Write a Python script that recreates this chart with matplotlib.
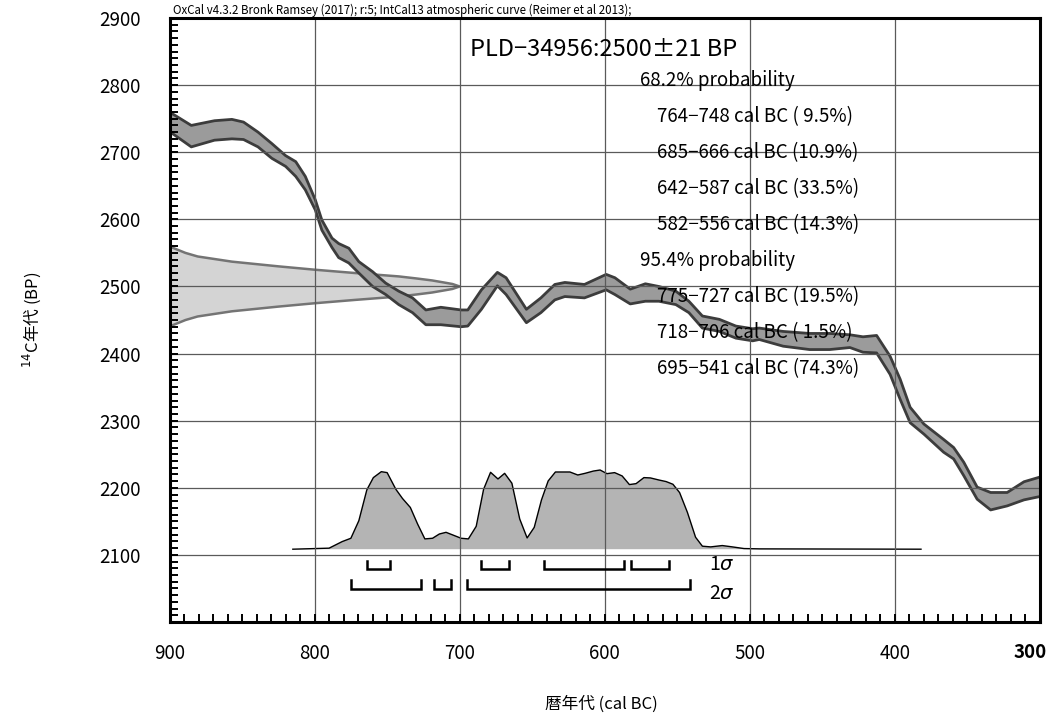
import matplotlib
matplotlib.use("Agg")
import matplotlib.pyplot as plt
import matplotlib.transforms as mtransforms
import numpy as np

plt.rcParams['font.family'] = ['Noto Sans CJK JP', 'DejaVu Sans']

# calibration curve (IntCal13): year BC, upper and lower edge in BP
cal_year = [900, 885, 869, 857, 849, 839, 829.5, 820, 813, 806.4, 799.5, 795, 788, 783.4,
            776.4, 769.5, 760, 751, 742, 732.5, 723.3, 713, 699, 694.4, 685, 674, 668, 654,
            644, 634.4, 627.5, 614, 599, 593, 582.4, 572, 562.7, 551, 542, 532.7, 521, 509.6,
            498, 493.5, 477, 458.8, 445, 431, 422, 412.6, 403.3, 396.4, 389.5, 380, 366.4,
            359.5, 352.5, 343.3, 334, 322.6, 311, 300]
cal_upper = [2760, 2740, 2747, 2749, 2745, 2730, 2713, 2695, 2686, 2664, 2629, 2599, 2572, 2564,
             2557, 2537, 2522, 2505, 2493, 2483, 2465, 2469, 2465, 2465, 2495, 2521, 2513, 2466,
             2483, 2503, 2506, 2503, 2518, 2513, 2496, 2504, 2500, 2493, 2478, 2456, 2451, 2441,
             2437, 2438, 2433, 2430, 2430, 2428, 2425, 2427, 2396, 2362, 2320, 2295, 2272,
             2260, 2238, 2201, 2193, 2193, 2209, 2216]
cal_lower = [2731, 2708, 2718, 2720, 2719, 2708, 2691, 2679, 2664, 2644, 2614, 2584, 2558, 2543,
             2535, 2520, 2500, 2488, 2473, 2461, 2443, 2443, 2440, 2441, 2466, 2501, 2488, 2446,
             2461, 2480, 2485, 2483, 2495, 2488, 2474, 2478, 2478, 2473, 2461, 2438, 2433, 2423,
             2419, 2421, 2411, 2406, 2406, 2409, 2402, 2401, 2369, 2332, 2297, 2280, 2253,
             2243, 2218, 2183, 2167, 2173, 2182, 2187]

# measured radiocarbon age, shown as the distribution on the y axis
c14_age = 2500
c14_err = 21
gauss_offset = [0, 3.7, 6, 9, 12, 15, 20, 25, 30, 37, 44.7, 50, 59.6]      # BP from the mean
gauss_year = [700, 705, 711, 719, 730, 742, 772, 800, 825, 857, 880.6, 889, 900]

# calibrated probability distribution (relative)
prob_year = [815, 790, 781, 775, 769.5, 764, 759.5, 754, 750, 744, 739.4, 734, 729, 724,
             718.7, 714, 709.4, 704.8, 699, 694, 688.6, 683.5, 678.7, 673.6, 669, 664, 658.6,
             653.5, 648.6, 643.6, 639, 634, 628.6, 624, 618.6, 613.6, 607.8, 603.2, 598.5,
             593.2, 588, 583, 578.4, 573, 568.5, 562.7, 557.7, 553, 548.4, 543, 537.4, 532.7,
             527, 519, 512, 504, 493, 382]
prob = [0, 0.013, 0.096, 0.138, 0.36, 0.749, 0.904, 0.979, 0.967, 0.757, 0.64, 0.527, 0.318, 0.13,
        0.138, 0.192, 0.213, 0.18, 0.138, 0.13, 0.289, 0.757, 0.971, 0.887, 0.958, 0.833, 0.381,
        0.142, 0.276, 0.623, 0.862, 0.975, 0.975, 0.975, 0.937, 0.958, 0.987, 1.0, 0.954,
        0.967, 0.925, 0.816, 0.828, 0.904, 0.9, 0.874, 0.854, 0.82, 0.715, 0.464, 0.151, 0.038,
        0.029, 0.046, 0.029, 0.008, 0.004, 0]

# calibrated ranges
sig1_ranges = [(764, 748), (685, 666), (642, 587), (582, 556)]
sig1_pct = [9.5, 10.9, 33.5, 14.3]
sig2_ranges = [(775, 727), (718, 706), (695, 541)]
sig2_pct = [19.5, 1.5, 74.3]

fig = plt.figure(figsize=(10.51, 7.22), dpi=100)
ax = fig.add_axes([0.1613, 0.1385, 0.8282, 0.8365])

ax.set_xlim(900, 300)
ax.set_ylim(2000, 2900)

# gaussian of the measured age
gy = np.array(gauss_offset)
gx = np.array(gauss_year)
yy = np.concatenate([c14_age + gy[::-1], c14_age - gy[1:]])
xx = np.concatenate([gx[::-1], gx[1:]])
ax.fill_betweenx(yy, 900, xx, facecolor='#d4d4d4', edgecolor='none', zorder=1)
ax.plot(xx, yy, color='#747474', lw=1.8, zorder=1.2)

# calibration curve band
ax.fill_between(cal_year, cal_lower, cal_upper, facecolor='#9b9b9b', edgecolor='none', zorder=1.4)
ax.plot(cal_year, cal_upper, color='#3c3c3c', lw=2.0, zorder=1.6)
ax.plot(cal_year, cal_lower, color='#3c3c3c', lw=2.0, zorder=1.6)

# probability distribution
base = 2108.5
height = 118
p = base + np.array(prob) * height
ax.fill_between(prob_year, base, p, facecolor='#b4b4b4', edgecolor='none', zorder=1.3)
ax.plot(prob_year, p, color='black', lw=1.0, zorder=1.5)

# range brackets
def bracket(r, ytop, ybot):
    a, b = r
    ax.plot([a, a, b, b], [ytop, ybot, ybot, ytop], color='black', lw=1.8,
            solid_joinstyle='miter', zorder=3)

for r in sig1_ranges:
    bracket(r, 2091, 2079)
for r in sig2_ranges:
    bracket(r, 2063, 2049)
ax.text(528, 2085, r'1$\sigma$', fontsize=14, va='center', ha='left')
ax.text(528, 2042, r'2$\sigma$', fontsize=14, va='center', ha='left')

# grid and ticks
ax.set_xticks(np.arange(900, 299, -100))
ax.set_yticks(np.arange(2100, 2901, 100))
ax.set_xticks(np.arange(900, 299, -10), minor=True)
ax.set_yticks(np.arange(2000, 2901, 10), minor=True)
ax.grid(True, which='major', color='#5a5a5a', lw=0.9)
ax.set_axisbelow(False)
ax.tick_params(which='both', direction='in', length=5.5, width=1.4, color='black',
               top=False, right=False)
ax.tick_params(axis='x', which='major', pad=15, labelsize=13.5)
ax.tick_params(axis='y', which='major', pad=21, labelsize=13.5)
last = ax.get_xticklabels()[-1]
last.set_fontweight('bold')
last.set_transform(last.get_transform() +
                   mtransforms.ScaledTranslation(-10 / 100, 0, fig.dpi_scale_trans))
for s in ax.spines.values():
    s.set_linewidth(2.2)
    s.set_zorder(4)

# text
ax.text(0.345, 0.9487, 'PLD−34956:2500±21 BP', transform=ax.transAxes,
        fontsize=17, va='center', ha='left', zorder=5)
lines = ['68.2% probability']
for (a, b), pc in zip(sig1_ranges, sig1_pct):
    lines.append(f'{a}−{b} cal BC ({pc:4.1f}%)')
lines.append('95.4% probability')
for (a, b), pc in zip(sig2_ranges, sig2_pct):
    lines.append(f'{a}−{b} cal BC ({pc:4.1f}%)')
y0 = 0.896
for i, t in enumerate(lines):
    x0 = 0.5405 if 'probability' in t else 0.5595
    ax.text(x0, y0 - i * 0.0596, t, transform=ax.transAxes, fontsize=13.5,
            va='center', ha='left', zorder=5)

fig.text(0.1646, 0.986, 'OxCal v4.3.2 Bronk Ramsey (2017); r:5; IntCal13 atmospheric curve (Reimer et al 2013);',
         fontsize=8.3, va='center', ha='left')
fig.text(0.572, 0.024, '暦年代 (cal BC)', fontsize=12, ha='center', va='center')
fig.text(0.030, 0.557, r'$^{14}$C年代 (BP)', fontsize=12, ha='center', va='center', rotation=90)

fig.savefig('out.png', dpi=100)
